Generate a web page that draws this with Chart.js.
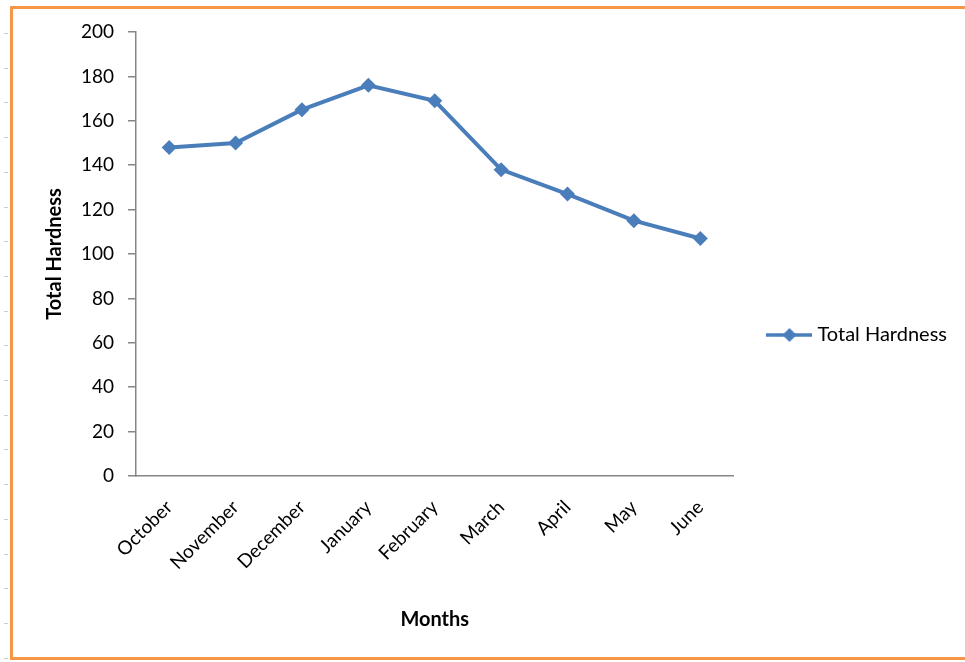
<!DOCTYPE html>
<html>
<head>
<meta charset="utf-8">
<script src="https://cdn.jsdelivr.net/npm/chart.js@4.4.1/dist/chart.umd.min.js"></script>
<style>
  html, body { margin: 0; padding: 0; background: #fff; }
  #wrap { width: 965px; height: 662px; }
</style>
</head>
<body>
<div id="wrap"><canvas id="myChart" width="965" height="662"></canvas></div>
<script>
// monthly total hardness readings
const months = ['October', 'November', 'December', 'January', 'February', 'March', 'April', 'May', 'June'];
const hardness = [148, 150, 165, 176, 169, 138, 127, 115, 107];
const yTicks = [0, 20, 40, 60, 80, 100, 120, 140, 160, 180, 200];

const blue = '#4a7ebb';
const axisGrey = '#868686';
const fontFamily = 'Lato, "Open Sans", sans-serif';

// legend swatch: short line with a diamond in the middle
const swatch = document.createElement('canvas');
swatch.width = 46;
swatch.height = 16;
(function () {
    var c = swatch.getContext('2d');
    c.strokeStyle = blue;
    c.lineWidth = 3.5;
    c.beginPath();
    c.moveTo(0, 8);
    c.lineTo(46, 8);
    c.stroke();
    c.fillStyle = blue;
    c.beginPath();
    c.moveTo(23, 1);
    c.lineTo(30, 8);
    c.lineTo(23, 15);
    c.lineTo(16, 8);
    c.closePath();
    c.fill();
})();

// page frame: orange border plus the little ruler marks on the left
const framePlugin = {
    id: 'frame',
    beforeDraw(chart) {
        var c = chart.ctx;
        c.save();
        c.strokeStyle = '#c8ccd6';
        c.lineWidth = 1;
        for (var y = 33; y < 662; y += 34.7) {
            c.beginPath();
            c.moveTo(4, Math.round(y) + 0.5);
            c.lineTo(8, Math.round(y) + 0.5);
            c.stroke();
        }
        c.strokeStyle = '#f79646';
        c.lineWidth = 3;
        c.strokeRect(11.5, 7.5, 970, 651);
        c.restore();
    }
};

const ctx = document.getElementById('myChart');
const myChart = new Chart(ctx, {
    type: 'line',
    data: {
        labels: months,
        datasets: [{
            label: 'Total Hardness',
            data: hardness,
            borderColor: blue,
            backgroundColor: blue,
            borderWidth: 4,
            pointStyle: 'rectRot',
            pointRadius: 7.5,
            pointBorderWidth: 0,
            pointBackgroundColor: blue,
            tension: 0
        }]
    },
    options: {
        responsive: false,
        animation: false,
        layout: { padding: { top: 32, left: 43, right: 8, bottom: 24 } },
        plugins: {
            tooltip: { enabled: false },
            legend: {
                position: 'right',
                labels: {
                    color: '#000',
                    font: { family: fontFamily, size: 20 },
                    usePointStyle: true,
                    pointStyleWidth: 36,
                    padding: 38,
                    generateLabels(chart) {
                        return chart.data.datasets.map(function (ds, i) {
                            return {
                                text: ds.label,
                                pointStyle: swatch,
                                fillStyle: ds.borderColor,
                                strokeStyle: ds.borderColor,
                                lineWidth: 0,
                                datasetIndex: i,
                                fontColor: '#000'
                            };
                        });
                    }
                }
            }
        },
        scales: {
            x: {
                offset: true,
                grid: { display: false },
                border: { display: true, color: axisGrey, width: 1.5 },
                ticks: {
                    color: '#000',
                    font: { family: fontFamily, size: 19 },
                    minRotation: 45,
                    maxRotation: 45,
                    padding: 12
                },
                title: {
                    display: true,
                    text: 'Months',
                    color: '#000',
                    font: { family: fontFamily, size: 20, weight: 'bold' },
                    padding: { top: 20, bottom: 6 }
                },
                afterFit(scale) { scale.height = 162; }
            },
            y: {
                min: 0,
                max: 200,
                afterBuildTicks(scale) {
                    scale.ticks = yTicks.map(function (v) { return { value: v }; });
                },
                grid: {
                    drawOnChartArea: false,
                    drawTicks: true,
                    tickLength: 8,
                    color: axisGrey,
                    lineWidth: 1.5
                },
                border: { display: true, color: axisGrey, width: 1.5 },
                ticks: {
                    color: '#000',
                    font: { family: fontFamily, size: 19 },
                    padding: 14
                },
                title: {
                    display: true,
                    text: 'Total Hardness',
                    color: '#000',
                    font: { family: fontFamily, size: 20, weight: 'bold' },
                    padding: { top: 0, bottom: 10 }
                },
                afterFit(scale) { scale.width = 93; }
            }
        }
    },
    plugins: [framePlugin]
});
</script>
</body>
</html>
